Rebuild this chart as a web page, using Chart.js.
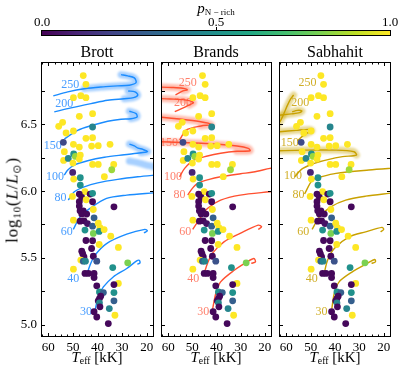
<!DOCTYPE html>
<html><head><meta charset="utf-8">
<script src="https://cdn.jsdelivr.net/npm/chart.js@4/dist/chart.umd.min.js"></script>
<style>
html,body{margin:0;padding:0;background:#fff;}
#wrap{position:relative;width:400px;height:372px;overflow:hidden;font-family:"Liberation Serif",serif;color:#000;}
canvas{position:absolute;left:0;top:0;}
.t{position:absolute;white-space:nowrap;line-height:1;transform:translate(-50%,-50%);}
sub{font-size:0.65em;vertical-align:-0.3em;line-height:0;}
</style></head><body>
<div id="wrap">
<canvas id="c0" width="400" height="372"></canvas>
<canvas id="c1" width="400" height="372"></canvas>
<canvas id="c2" width="400" height="372"></canvas>
<div class="t" style="left:216px;top:8px;font-size:15px"><i>p</i><sub style="font-size:9px">N − rich</sub></div>
<div class="t" style="left:42px;top:21px;font-size:13px">0.0</div>
<div class="t" style="left:216px;top:21px;font-size:13px">0.5</div>
<div class="t" style="left:390px;top:21px;font-size:13px">1.0</div>
<div id="cbar" style="position:absolute;left:41px;top:30px;width:350px;height:6px;box-sizing:border-box;border:1px solid #000;"></div>
<div style="position:absolute;left:216px;top:27px;width:1px;height:3px;background:#000"></div>
<div class="t" style="left:97px;top:52px;font-size:16px">Brott</div>
<div class="t" style="left:216px;top:52px;font-size:16px">Brands</div>
<div class="t" style="left:335px;top:52px;font-size:16px">Sabhahit</div>
<div class="t" style="left:97px;top:357px;font-size:15px"><i>T</i><sub>eff</sub> [kK]</div>
<div class="t" style="left:216px;top:357px;font-size:15px"><i>T</i><sub>eff</sub> [kK]</div>
<div class="t" style="left:335px;top:357px;font-size:15px"><i>T</i><sub>eff</sub> [kK]</div>
<div class="t" style="left:12px;top:200px;font-size:17px;letter-spacing:0.8px;font-weight:normal;transform:translate(-50%,-50%) rotate(-90deg)">log<sub>10</sub>(<i>L</i>/<i>L</i><sub>⊙</sub>)</div>
</div>
<script>
// ---------------- data ----------------
const xTicks = [60, 50, 40, 30, 20];
const xMinorTicks = [62.5, 57.5, 55, 52.5, 47.5, 45, 42.5, 37.5, 35, 32.5, 27.5, 25, 22.5, 17.5];
const yTicks = [5.0, 5.5, 6.0, 6.5];
const yMinorTicks = [5.25, 5.75, 6.25, 6.75];
const masses = [30, 40, 60, 80, 100, 150, 200, 250];

const teff = [45.8,44.7,49.8,46.8,44.7,47.4,42.0,54.2,55.8,42.0,52.8,49.8,44.7,42.0,53.9,49.8,47.4,42.4,39.7,34.9,
53.5,49.7,49.0,47.0,53.8,51.9,50.0,47.4,42.0,39.7,33.4,34.2,50.1,37.2,49.7,47.0,47.0,50.2,45.1,46.4,
47.4,43.0,42.0,47.4,44.6,42.0,47.4,47.1,45.8,41.7,33.3,46.4,44.4,41.4,49.8,47.1,45.5,44.1,42.0,39.7,
39.0,45.1,41.7,39.3,37.3,34.6,44.7,42.0,39.3,31.5,46.4,46.0,42.4,41.7,45.5,46.8,45.8,44.9,40.3,49.8,
27.7,33.8,45.1,43.7,41.4,41.4,31.5,33.3,40.3,39.2,37.6,33.3,38.7,39.2,39.7,33.3,39.2,39.0,35.2,41.4,
32.9,40.3,35.6];
const logL = [6.865,6.80,6.70,6.715,6.70,6.56,6.58,6.515,6.485,6.48,6.435,6.45,6.395,6.40,6.365,6.35,6.33,6.337,6.34,6.35,
6.295,6.278,6.26,6.27,6.23,6.245,6.21,6.24,6.20,6.20,6.20,6.16,6.14,6.108,6.09,6.10,6.045,5.96,5.995,5.953,
5.978,5.978,5.983,5.92,5.935,5.92,5.888,5.852,5.852,5.862,5.882,5.828,5.828,5.80,5.782,5.775,5.777,5.757,5.737,5.76,
5.727,5.708,5.683,5.698,5.712,5.662,5.63,5.628,5.60,5.578,5.55,5.53,5.57,5.512,5.507,5.483,5.475,5.475,5.475,5.415,
5.463,5.427,5.383,5.383,5.383,5.352,5.308,5.30,5.29,5.245,5.24,5.24,5.213,5.195,5.178,5.178,5.163,5.133,5.12,5.097,
5.07,5.057,5.0075];
const pNrich = [1,1,1,1,1,1,1,1,1,0.45,1,1,1,1,0.22,1,1,1,1,1,
1,0.5,0.85,1,1,0.45,1,1,1,1,1,0.85,0.1,1,1,0.5,0.5,1,1,0.02,
0.02,0.02,0.5,0.02,1,0.02,0.02,0.02,0.02,1,0.02,0.02,0.02,0.3,1,0.02,0.02,0.05,0.3,1,
1,0.5,0.8,0.5,1,1,0.02,0.02,1,1,0.02,0.02,0.02,0.02,0.02,1,0.3,0.45,0.25,1,
0.8,0.5,0.02,0.02,0.02,0.02,1,0.02,0.02,0.5,0.3,0.5,0.02,0.02,0.02,0.3,0.45,0.02,0.45,0.02,
1,0.02,0.02];

// Brott tracks (Teff kK, logL)
const brott30  = [[41.0,5.107],[39.7,5.207],[37.6,5.282],[33.6,5.357],[28.1,5.42],[24.05,5.477],[23.0,5.482],[22.7,5.462],[23.8,5.452]];
const brott40  = [[44.4,5.37],[43.05,5.445],[41.0,5.52],[36.3,5.607],[28.1,5.677],[20.7,5.713],[19.7,5.702],[21.1,5.687]];
const brott60  = [[49.85,5.713],[47.1,5.807],[43.05,5.87],[36.3,5.945],[28.1,5.97],[17.0,5.987],[15.0,5.99]];
const brott80  = [[51.9,5.933],[49.45,5.995],[45.4,6.032],[39.9,6.062],[31.8,6.088],[23.6,6.107],[15.0,6.122]];
const brott100 = [[53.5,6.12],[52.1,6.158],[49.45,6.195],[44.0,6.227],[37.2,6.253],[29.1,6.272],[22.3,6.287],[19.6,6.295],[21.5,6.312],[23.5,6.322],[25.0,6.338],[27.0,6.352]];
const brott150 = [[53.5,6.39],[48.1,6.455],[42.0,6.493],[35.85,6.523],[30.4,6.538],[26.4,6.542],[23.9,6.555],[24.3,6.58],[27.05,6.598]];
const brott200 = [[57.6,6.593],[50.8,6.623],[42.65,6.655],[35.85,6.68],[29.1,6.692],[25.3,6.70],[23.6,6.72],[24.75,6.743],[27.5,6.75]];
const brott250 = [[58.0,6.713],[52.1,6.743],[45.4,6.767],[38.6,6.78],[31.8,6.788],[27.05,6.793],[24.3,6.812],[25.0,6.848],[27.7,6.863],[30.4,6.872]];
const brottGlowStart = [null,null,null,null,6,5,4,2];
const brottExtraGlow = [[27.0,6.225],[23.0,6.21],[19.0,6.19],[15.5,6.175]];
const brottLabelX = [44.7,49.85,52.5,55.1,57.3,58.2,53.5,51.1];
const brottLabelY = [5.095,5.345,5.695,5.953,6.103,6.338,6.655,6.797];

// Brands tracks
const brands30  = [[41.7,5.107],[40.3,5.233],[38.3,5.32],[32.65,5.407],[27.3,5.47],[24.5,5.495],[23.85,5.47],[25.6,5.458]];
const brands40  = [[45.1,5.383],[43.75,5.458],[41.7,5.533],[36.9,5.62],[30.2,5.683],[22.7,5.745],[21.3,5.732],[22.7,5.713]];
const brands60  = [[49.85,5.713],[46.4,5.807],[43.75,5.87],[38.3,5.932],[30.2,5.97],[17.9,5.995],[15.0,6.0]];
const brands80  = [[51.9,5.97],[50.0,6.02],[47.8,6.058],[43.0,6.088],[38.3,6.107],[30.0,6.13],[24.7,6.143],[17.8,6.17],[15.0,6.178]];
const brands100 = [[55.3,6.107],[53.2,6.17],[49.2,6.233],[43.75,6.263],[38.3,6.283],[31.5,6.298],[26.1,6.302],[26.8,6.32],[31.5,6.338],[41.0,6.353],[51.9,6.362],[62.7,6.37],[65.0,6.372]];
const brands150 = [[55.3,6.383],[52.5,6.458],[46.4,6.488],[42.2,6.499],[47.1,6.521],[55.3,6.54],[62.7,6.553],[65.0,6.555]];
const brands200 = [[57.3,6.595],[51.2,6.645],[49.6,6.664],[53.2,6.683],[59.3,6.69],[65.0,6.694]];
const brands250 = [[57.0,6.72],[53.9,6.75],[52.1,6.758],[54.05,6.77],[58.5,6.776],[65.0,6.78]];
const brandsGlowStart = [null,null,null,null,5,2,1,1];
const brandsLabelX = [45.5,49.6,53.0,55.3,58.0,59.7,53.9,51.9];
const brandsLabelY = [5.095,5.345,5.695,5.97,6.107,6.362,6.662,6.812];

// Sabhahit tracks
const sab30  = [[41.3,5.12],[40.3,5.233],[38.3,5.32],[32.9,5.395],[26.8,5.458],[23.65,5.488],[23.4,5.47],[25.0,5.458]];
const sab40  = [[44.4,5.387],[43.05,5.482],[40.3,5.57],[34.2,5.657],[27.4,5.695],[20.7,5.728],[20.0,5.713],[21.3,5.695]];
const sab60  = [[49.4,5.713],[46.4,5.807],[41.7,5.882],[35.6,5.932],[27.4,5.962],[17.9,5.983],[15.0,5.988]];
const sab80  = [[52.5,5.978],[49.2,6.083],[45.0,6.11],[39.6,6.133],[26.1,6.158],[17.3,6.17],[15.0,6.172]];
const sab100 = [[56.6,6.107],[53.2,6.17],[46.4,6.22],[36.9,6.258],[31.2,6.27],[32.2,6.295],[39.6,6.307],[53.2,6.307],[62.7,6.302],[65.0,6.30]];
const sab150 = [[55.4,6.375],[52.5,6.425],[49.5,6.452],[50.5,6.462],[56.0,6.455],[62.7,6.445],[65.0,6.44]];
const sab200 = [[57.6,6.593],[55.5,6.605],[53.6,6.60],[54.5,6.588],[58.0,6.578],[62.0,6.57],[65.0,6.566]];
const sab250 = [[57.0,6.72],[58.2,6.69],[59.6,6.64],[61.0,6.58],[62.3,6.53],[64.0,6.48]];
const sabGlowStart = [null,null,null,null,4,1,0,0];
const sabLabelX = [45.5,49.6,53.0,55.0,57.3,58.6,54.3,51.3];
const sabLabelY = [5.095,5.345,5.695,5.97,6.112,6.358,6.658,6.812];

// ---------------- styling / rendering ----------------
const X_MIN = 17, X_MAX = 63, Y_MIN = 4.907, Y_MAX = 6.967;
const viridisStops = ['#440154','#482475','#414487','#355f8d','#2a788e','#21918c','#22a884','#44bf70','#7ad151','#bddf26','#fde725'];
function hexRgb(h){return [parseInt(h.slice(1,3),16),parseInt(h.slice(3,5),16),parseInt(h.slice(5,7),16)];}
function viridis(p){
  p=Math.max(0,Math.min(1,p)); const f=p*10; const i=Math.min(9,Math.floor(f)); const t=f-i;
  const a=hexRgb(viridisStops[i]), b=hexRgb(viridisStops[i+1]);
  return 'rgb('+a.map((v,k)=>Math.round(v+(b[k]-v)*t)).join(',')+')';
}
document.getElementById('cbar').style.background='linear-gradient(to right,'+viridisStops.join(',')+')';

const framePlugin = {
  id:'frame',
  beforeDatasetDraw(chart,args){
    const ds=chart.data.datasets[args.index];
    if(ds.glow){chart.ctx.save(); chart.ctx.filter='blur(1.3px)';}
  },
  afterDatasetDraw(chart,args){
    const ds=chart.data.datasets[args.index];
    if(ds.glow){chart.ctx.restore();}
  },
  beforeDatasetsDraw(chart){
    const o=chart.options.plugins.frame; if(!o) return;
    const {ctx,scales:{x,y}}=chart;
    ctx.save();
    ctx.font='12px "Liberation Serif"'; ctx.textAlign='center'; ctx.textBaseline='middle';
    ctx.fillStyle=o.labelColor;
    o.lx.forEach((lx,i)=>{ ctx.fillText(String(masses[i]), x.getPixelForValue(lx), y.getPixelForValue(o.ly[i])); });
    ctx.restore();
  },
  afterDraw(chart){
    const {ctx,chartArea:a,scales:{x,y}}=chart;
    ctx.save(); ctx.strokeStyle='#000'; ctx.lineWidth=1;
    ctx.strokeRect(a.left+0.5,a.top+0.5,a.right-a.left-1,a.bottom-a.top-1);
    const ln=(x1,y1,x2,y2)=>{ctx.beginPath();ctx.moveTo(x1,y1);ctx.lineTo(x2,y2);ctx.stroke();};
    const xt=(vals,len)=>vals.forEach(v=>{const p=Math.round(x.getPixelForValue(v))+0.5; ln(p,a.bottom,p,a.bottom-len); ln(p,a.top,p,a.top+len);});
    const yt=(vals,len)=>vals.forEach(v=>{const p=Math.round(y.getPixelForValue(v))+0.5; ln(a.left,p,a.left+len,p); ln(a.right,p,a.right-len,p);});
    xt(xTicks,4); xt(xMinorTicks,2.5); yt(yTicks,4); yt(yMinorTicks,4);
    ctx.restore();
  }
};

function makeChart(id, padLeft, padRight, showY, tracks, glowStart, extraGlow, color, glowColor, labelColor, lx, ly){
  const datasets=[{
    data: teff.map((t,i)=>({x:t,y:logL[i]})),
    backgroundColor: pNrich.map(viridis), borderWidth:0, pointRadius:3.4, pointHoverRadius:3.4, order:0, clip:0
  }];
  tracks.forEach((tr,k)=>{
    const pts=tr.map(p=>({x:p[0],y:p[1]}));
    datasets.push({data:pts, showLine:true, borderColor:color, borderWidth:1.4, pointRadius:0, tension:0.3, order:1, clip:0});
    if(glowStart[k]!==null){
      datasets.push({data:pts.slice(glowStart[k]), showLine:true, glow:true, borderColor:glowColor, borderWidth:7, pointRadius:0, tension:0.3, order:2, clip:0, borderCapStyle:'round', borderJoinStyle:'round'});
    }
  });
  if(extraGlow){
    datasets.push({data:extraGlow.map(p=>({x:p[0],y:p[1]})), showLine:true, glow:true, borderColor:glowColor, borderWidth:7, pointRadius:0, tension:0.3, order:2, clip:0, borderCapStyle:'round'});
  }
  new Chart(document.getElementById(id),{
    type:'scatter',
    data:{datasets},
    options:{
      responsive:false, animation:false, events:[],
      layout:{padding:{left:padLeft,right:padRight,top:62,bottom:0}},
      plugins:{legend:{display:false},tooltip:{enabled:false},frame:{lx,ly,labelColor}},
      scales:{
        x:{type:'linear',min:X_MIN,max:X_MAX,reverse:true,
           afterBuildTicks:s=>{s.ticks=xTicks.map(v=>({value:v}));},
           afterFit:s=>{s.height=35;},
           grid:{display:false,drawTicks:false},border:{display:false},
           ticks:{color:'#000',font:{family:'Liberation Serif',size:13},padding:3,maxRotation:0,autoSkip:false,callback:v=>String(v)}},
        y:{type:'linear',min:Y_MIN,max:Y_MAX,display:showY,
           afterBuildTicks:s=>{s.ticks=yTicks.map(v=>({value:v}));},
           afterFit:s=>{s.width=showY?41:0;},
           grid:{display:false,drawTicks:false},border:{display:false},
           ticks:{color:'#000',font:{family:'Liberation Serif',size:13},padding:4,callback:v=>v.toFixed(1)}}
      }
    },
    plugins:[framePlugin]
  });
}

makeChart('c0',0,246,true,[brott30,brott40,brott60,brott80,brott100,brott150,brott200,brott250],brottGlowStart,brottExtraGlow,
  '#1a8cff','rgba(60,150,255,0.45)','rgba(40,140,255,0.85)',brottLabelX,brottLabelY);
makeChart('c1',161,128,false,[brands30,brands40,brands60,brands80,brands100,brands150,brands200,brands250],brandsGlowStart,null,
  '#ff5030','rgba(255,110,80,0.45)','rgba(255,95,70,0.8)',brandsLabelX,brandsLabelY);
makeChart('c2',279,9,false,[sab30,sab40,sab60,sab80,sab100,sab150,sab200,sab250],sabGlowStart,null,
  '#c9a100','rgba(205,170,20,0.45)','rgba(200,160,0,0.85)',sabLabelX,sabLabelY);
</script>
</body></html>
